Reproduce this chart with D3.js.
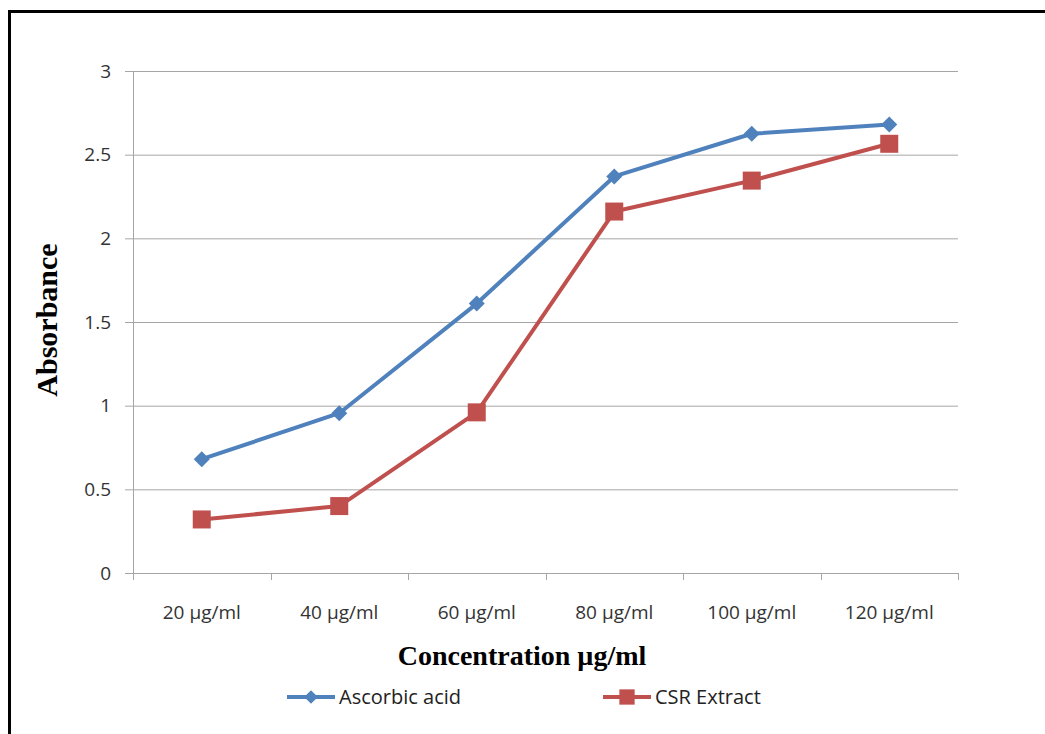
<!DOCTYPE html>
<html>
  <head>
    <meta charset="utf-8" />
    <title>Absorbance vs Concentration</title>
    <script src="https://d3js.org/d3.v7.min.js"></script>
    <style>
      body { margin: 0; background: #fff; overflow: hidden; }
      svg { display: block; }
      .tick text { font-family: "Open Sans", sans-serif; fill: #333; }
    </style>
  </head>
  <body>
    <svg width="1045" height="734"></svg>
    <script>
      const categories = ["20 µg/ml", "40 µg/ml", "60 µg/ml", "80 µg/ml", "100 µg/ml", "120 µg/ml"];
      const ascorbic = [0.68, 0.955, 1.61, 2.37, 2.625, 2.68];
      const csr = [0.32, 0.40, 0.96, 2.16, 2.345, 2.565];
      const yTicks = [0, 0.5, 1, 1.5, 2, 2.5, 3];

      const svg = d3.select("svg");
      const margin = { top: 71, left: 133 };
      const innerWidth = 825, innerHeight = 502;

      // outer frame: only its top and left edges show in the picture
      svg.append("path")
        .attr("d", "M9.5,734V11.5H1045")
        .attr("fill", "none").attr("stroke", "#000").attr("stroke-width", 3);

      const g = svg.append("g").attr("transform", `translate(${margin.left},${margin.top})`);

      const x = d3.scaleBand().domain(categories).range([0, innerWidth]);
      const y = d3.scaleLinear().domain([0, 3]).range([innerHeight, 0]);

      // y axis with gridlines
      const yAxis = g.append("g")
        .call(d3.axisLeft(y).tickValues(yTicks).tickSize(-innerWidth).tickPadding(22).tickFormat(d3.format("")));
      yAxis.select(".domain").remove();
      yAxis.selectAll(".tick line").attr("stroke", "#a6a6a6").attr("x1", -8);
      yAxis.selectAll(".tick text").attr("font-size", 19);

      g.append("line").attr("x1", 0.5).attr("x2", 0.5).attr("y1", 0).attr("y2", innerHeight)
        .attr("stroke", "#a6a6a6");

      // x axis with ticks at category boundaries
      const xAxis = g.append("g").attr("transform", `translate(0,${innerHeight})`)
        .call(d3.axisBottom(x).tickSize(0).tickPadding(33));
      xAxis.select(".domain").attr("stroke", "#a6a6a6");
      xAxis.selectAll(".tick text").attr("font-size", 19);
      const bounds = categories.map(c => x(c)).concat([innerWidth]);
      g.selectAll(".xb").data(bounds).join("line")
        .attr("class", "xb")
        .attr("x1", d => Math.round(d) + 0.5).attr("x2", d => Math.round(d) + 0.5)
        .attr("y1", innerHeight).attr("y2", innerHeight + 7)
        .attr("stroke", "#a6a6a6");

      const cx = i => x(categories[i]) + x.bandwidth() / 2;
      const line = d3.line().x((d, i) => cx(i)).y(d => y(d));

      const series = [
        { name: "Ascorbic acid", values: ascorbic, color: "#4f81bd", marker: "diamond" },
        { name: "CSR Extract", values: csr, color: "#c0504d", marker: "square" }
      ];

      function drawMarker(sel, type, color) {
        if (type === "diamond") {
          sel.append("path").attr("d", "M0,-8L8,0L0,8L-8,0Z").attr("fill", color);
        } else {
          sel.append("rect").attr("x", -9).attr("y", -9).attr("width", 18).attr("height", 18).attr("fill", color);
        }
      }

      series.forEach(s => {
        g.append("path").datum(s.values)
          .attr("d", line).attr("fill", "none")
          .attr("stroke", s.color).attr("stroke-width", 4).attr("stroke-linejoin", "round");
        s.values.forEach((v, i) => {
          const m = g.append("g").attr("transform", `translate(${cx(i)},${y(v)})`);
          drawMarker(m, s.marker, s.color);
        });
      });

      // axis titles
      svg.append("text")
        .attr("x", 522).attr("y", 665).attr("text-anchor", "middle")
        .attr("font-family", "Liberation Serif, Times New Roman, serif")
        .attr("font-weight", "bold").attr("font-size", 28)
        .text("Concentration µg/ml");

      svg.append("text")
        .attr("transform", "translate(57,320) rotate(-90)").attr("text-anchor", "middle")
        .attr("font-family", "Liberation Serif, Times New Roman, serif")
        .attr("font-weight", "bold").attr("font-size", 30)
        .text("Absorbance");

      // legend
      const legendX = [287, 603];
      series.forEach((s, i) => {
        const lg = svg.append("g").attr("transform", `translate(${legendX[i]},697)`);
        lg.append("line").attr("x1", 0).attr("x2", 48).attr("stroke", s.color).attr("stroke-width", 4);
        const m = lg.append("g").attr("transform", "translate(24,0) scale(0.85)");
        drawMarker(m, s.marker, s.color);
        lg.append("text").attr("x", 52).attr("y", 7)
          .attr("font-family", "Open Sans, sans-serif").attr("font-size", 20).attr("fill", "#222")
          .text(s.name);
      });
    </script>
  </body>
</html>
